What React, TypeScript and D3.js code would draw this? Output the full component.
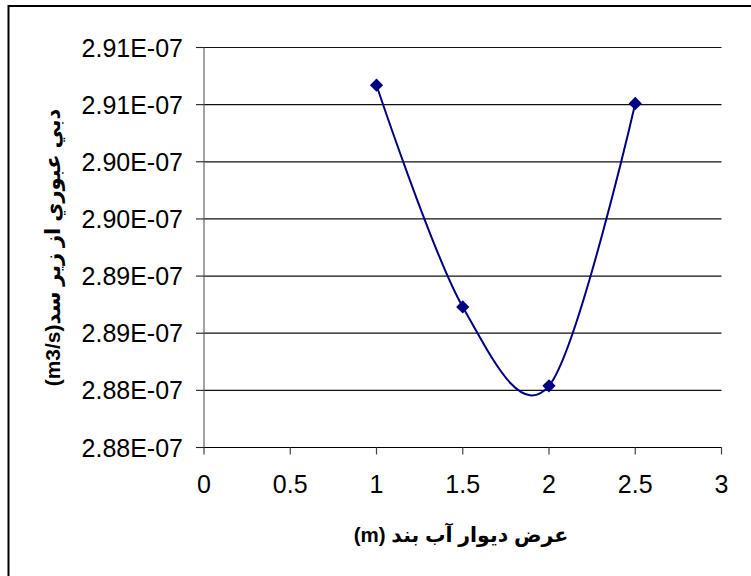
import React from 'react';
import * as d3 from 'd3';

// wall width (m) vs. discharge under the dam (m3/s)
const widths = [1, 1.5, 2, 2.5];
const discharge = [2.9067e-7, 2.8873e-7, 2.8804e-7, 2.9051e-7];

const xTicks = [0, 0.5, 1, 1.5, 2, 2.5, 3];
const yTicks = [2.875e-7, 2.88e-7, 2.885e-7, 2.89e-7, 2.895e-7, 2.9e-7, 2.905e-7, 2.91e-7];
const yTickLabels = ['2.88E-07', '2.88E-07', '2.89E-07', '2.89E-07', '2.90E-07', '2.90E-07', '2.91E-07', '2.91E-07'];

const xTitle = 'عرض ديوار آب بند (m)';
const yTitle = 'دبي عبوري از زير سد(m3/s)';

const W = 751;
const H = 576;
const plot = { left: 204, right: 721.5, top: 47.5, bottom: 447.5 };
const font = '"Liberation Sans", Arial, "DejaVu Sans", sans-serif';
const navy = '#000080';

const App: React.FC = () => {
  const x = d3.scaleLinear().domain([0, 3]).range([plot.left, plot.right]);
  const y = d3.scaleLinear().domain([2.875e-7, 2.91e-7]).range([plot.bottom, plot.top]);

  const pts: [number, number][] = widths.map((w, i) => [x(w), y(discharge[i])]);
  const line = d3.line().curve(d3.curveCardinal.tension(0))(pts) || '';
  const diamond = d3.symbol(d3.symbolSquare, 88)() || '';

  return (
    <div style={{ position: 'absolute', left: 0, top: 0 }}>
      <svg width={W} height={H} style={{ display: 'block', background: '#fff' }}>
        {/* chart frame, right and bottom edges run off the picture */}
        <rect x={8.5} y={6} width={900} height={800} fill="none" stroke="#000" strokeWidth={2} />

        {/* horizontal gridlines */}
        {yTicks.map((t, i) => (
          <line key={'g' + i} x1={plot.left} x2={plot.right} y1={y(t)} y2={y(t)} stroke="#111" strokeWidth={1.2} />
        ))}

        {/* y axis */}
        <line x1={plot.left} x2={plot.left} y1={plot.top} y2={plot.bottom} stroke="#666" strokeWidth={1.2} />
        {yTicks.map((t, i) => (
          <g key={'y' + i}>
            <line x1={plot.left - 8} x2={plot.left} y1={y(t)} y2={y(t)} stroke="#222" strokeWidth={1.1} />
            <text x={183} y={y(t)} dy="0.36em" textAnchor="end" fontFamily={font} fontSize={25} fill="#000">
              {yTickLabels[i]}
            </text>
          </g>
        ))}

        {/* x axis */}
        <line x1={plot.left} x2={plot.right} y1={plot.bottom} y2={plot.bottom} stroke="#000" strokeWidth={1.2} />
        {xTicks.map((t) => (
          <g key={'x' + t}>
            <line x1={x(t)} x2={x(t)} y1={plot.bottom} y2={plot.bottom + 7} stroke="#444" strokeWidth={1.2} />
            <text x={x(t)} y={493} textAnchor="middle" fontFamily={font} fontSize={25} fill="#000">
              {t}
            </text>
          </g>
        ))}

        {/* series */}
        <path d={line} fill="none" stroke={navy} strokeWidth={2} />
        {pts.map(([px, py], i) => (
          <path key={'m' + i} d={diamond} transform={`translate(${px},${py}) rotate(45)`} fill={navy} />
        ))}

        {/* axis titles */}
        <text
          x={461}
          y={542}
          textAnchor="middle"
          fontFamily={font}
          fontSize={20.5}
          fontWeight="bold"
          style={{ direction: 'rtl' }}
        >
          {xTitle}
        </text>
        <text
          transform={`translate(60, ${(plot.top + plot.bottom) / 2}) rotate(-90)`}
          textAnchor="middle"
          fontFamily={font}
          fontSize={21}
          fontWeight="bold"
          style={{ direction: 'rtl' }}
        >
          {yTitle}
        </text>
      </svg>
    </div>
  );
};

export default App;
